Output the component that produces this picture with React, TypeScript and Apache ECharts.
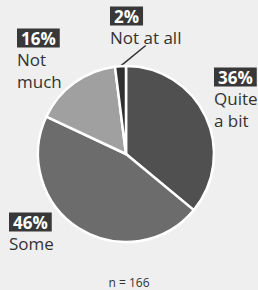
import React, { useEffect, useRef } from "react";
import * as echarts from "echarts";

const categories = ["Quite a bit", "Some", "Not much", "Not at all"];
const percents = [36, 46, 16, 2];
const displayNames = ["Quite\na bit", "Some", "Not\nmuch", "Not at all"];
const sampleNote = "n = 166";

const sliceColors = ["#505050", "#6c6c6c", "#a0a0a0", "#303030"];
const labelPos: Record<number, [number, number]> = {
  0: [214, 67],
  1: [9, 212],
  2: [17, 28],
  3: [110, 6],
};

export default function App() {
  const ref = useRef<HTMLDivElement>(null);
  useEffect(() => {
    document.body.style.margin = "0";
    const chart = echarts.init(ref.current!, null, { renderer: "svg" });
    const font = "'Open Sans', sans-serif";
    chart.setOption({
      animation: false,
      backgroundColor: "#efefef",
      title: {
        text: sampleNote,
        left: "center",
        top: 271,
        textStyle: { fontSize: 12, fontWeight: "normal", color: "#333", fontFamily: font },
      },
      series: [
        {
          type: "pie",
          center: [126, 154],
          radius: 88,
          startAngle: 90,
          clockwise: true,
          data: categories.map((c, i) => ({
            name: c,
            value: percents[i],
            itemStyle: { color: sliceColors[i] },
            labelLine: { show: i === 3, length: 8, length2: 0, lineStyle: { color: "#333", width: 1.5 } },
          })),
          itemStyle: { borderColor: "#ffffff", borderWidth: 2.5 },
          label: {
            show: true,
            position: "outside",
            overflow: "none",
            edgeDistance: 0,
            bleedMargin: 0,
            formatter: (p: any) => {
              const nm = displayNames[p.dataIndex]
                .split("\n")
                .map((s: string) => `{name|${s}}`)
                .join("\n");
              return `{box|${percents[p.dataIndex]}%}\n${nm}`;
            },
            rich: {
              box: {
                backgroundColor: "#383838",
                color: "#ffffff",
                fontWeight: "bold",
                fontSize: 17,
                fontFamily: font,
                padding: [1, 4, 1, 4],
                lineHeight: 20,
                overflow: "none",
              },
              name: {
                color: "#333333",
                fontSize: 17,
                fontFamily: font,
                lineHeight: 22,
                overflow: "none",
              },
            },
          },
          labelLayout: (params: any) => {
            const pos = labelPos[params.dataIndex];
            return { x: pos[0], y: pos[1], align: "left", verticalAlign: "top" };
          },
        },
      ],
    });
    return () => chart.dispose();
  }, []);
  return <div ref={ref} style={{ width: 258, height: 290 }} />;
}
